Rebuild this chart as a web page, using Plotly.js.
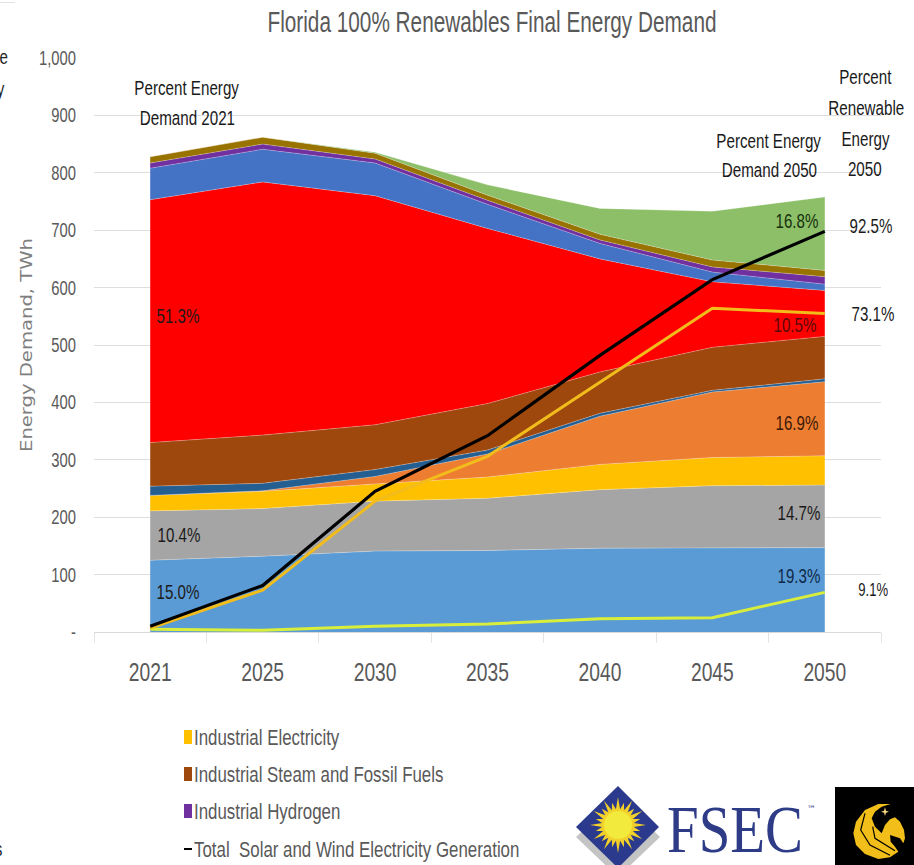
<!DOCTYPE html>
<html><head><meta charset="utf-8">
<script src="https://cdn.plot.ly/plotly-3.0.1.min.js"></script>
<style>html,body{margin:0;padding:0;background:#fff;overflow:hidden}#c{width:914px;height:865px}</style>
</head><body><div id="c"></div>
<script>
const years = ['2021','2025','2030','2035','2040','2045','2050'];
const residentialElectricity = [125,132,141,142,146,147,147];
const commercialElectricity  = [86,83,87,91,102,108,109];
const industrialElectricity  = [27,30,30,37,44,49,51];
const transportElectricity   = [0,1,13,40,84,114,129];
const otherElectricity       = [16,13,12,7,5,3,5];
const industrialSteam        = [76,84,78,81,72,75,74];
const transportFuels         = [423,441,399,305,197,114,80];
const thermalDemand          = [55,57,57,42,27,17,11];
const industrialHydrogen     = [9,9,7,7,6,9,13];
const aviationFuels          = [11,12,10,9,10,12,11];
const hydrogenFuels          = [0,0,2,18,45,85,128];
const solarWindGeneration    = [10,81,245,342,482,614,698];
const renewableElectricity   = [7,73,228,306,435,564,555];
const otherRenewable         = [5,3,10,14,23,25,69];
const yTicks = [0,100,200,300,400,500,600,700,800,900,1000];
const yTickLabels = ['-','100','200','300','400','500','600','700','800','900','1,000'];
const legendNames = ['Industrial Electricity','Industrial Steam and Fossil Fuels','Industrial Hydrogen','Total  Solar and Wind Electricity Generation'];
const legendColors = ['#FFC000','#9E480E','#7030A0','#000000'];

const W=914,H=865,L=94,R=881,T=58,B=632;
const SANS='"Liberation Sans",sans-serif';
const px=x=>(x-L)/(R-L), py=y=>(B-y)/(B-T);

const areaNames=['Residential Electricity','Commercial Electricity','Industrial Electricity','Transport Electricity','Other Electricity','Industrial Steam and Fossil Fuels','Transport Fuels','Thermal Demand','Industrial Hydrogen','Aviation Fuels','Hydrogen Fuels'];
const areaVals=[residentialElectricity,commercialElectricity,industrialElectricity,transportElectricity,otherElectricity,industrialSteam,transportFuels,thermalDemand,industrialHydrogen,aviationFuels,hydrogenFuels];
const areaColors=['#5B9BD5','#A5A5A5','#FFC000','#ED7D31','#255E91','#9E480E','#FF0000','#4472C4','#7030A0','#997300','#8CBF68'];
const traces=areaVals.map((v,i)=>({type:'scatter',mode:'lines',x:years,y:v,name:areaNames[i],stackgroup:'a',
  fillcolor:areaColors[i],line:{width:0.6,color:'rgba(255,255,255,0.45)'},hoverinfo:'name+y',showlegend:false}));
[[otherRenewable,'#D9EE3A','Other Renewable',3],[renewableElectricity,'#F2BC1B','Renewable Electricity',3],[solarWindGeneration,'#000000','Total Solar and Wind Electricity Generation',3.2]].forEach(s=>{
  traces.push({type:'scatter',mode:'lines',x:years,y:s[0],name:s[2],line:{color:s[1],width:s[3]},showlegend:false});
});

function txt(x,y,t,size,color,anchor){return {xref:'paper',yref:'paper',x:px(x),y:py(y),text:t,showarrow:false,
  xanchor:anchor||'center',yanchor:'middle',font:{family:SANS,size:size||20.5,color:color||'#1a1a1a'},borderpad:0,align:'center'};}
const ann=[
 txt(187,87,'Percent Energy'),txt(187,117,'Demand 2021'),
 txt(769,140,'Percent Energy'),txt(769,169.5,'Demand 2050'),
 txt(865,77,'Percent'),txt(866,108,'Renewable'),txt(866,138,'Energy'),txt(865,168,'2050'),
 txt(178,316,'51.3%',20.4),txt(179,535,'10.4%',20.4),txt(178,592,'15.0%',20.4),
 txt(797,221,'16.8%',20.4,'#16300c'),txt(795,325,'10.5%',20.4,'#5a0a0a'),txt(797,423,'16.9%',20.4,'#3a1a08'),txt(799,513,'14.7%',20.4),txt(799,576,'19.3%',20.4,'#0d2a48'),
 txt(871,226,'92.5%',20.4),txt(873,314,'73.1%',20.4),txt(873,590,'9.1%',17.7),
 txt(9,56,'le',20.5,'#222','right'),txt(6,88,'y',20.5,'#222','right'),txt(3,848,'s',20.5,'#222','right')
];
const shapes=[];
function rect(x0,y0,x1,y1,c){shapes.push({type:'rect',xref:'paper',yref:'paper',x0:px(x0),x1:px(x1),y0:py(y0),y1:py(y1),fillcolor:c,line:{width:0},layer:'above'});}
function poly(pts,c){shapes.push({type:'path',xref:'paper',yref:'paper',path:'M'+pts.map(p=>px(p[0])+','+py(p[1])).join('L')+'Z',fillcolor:c,line:{width:0},layer:'above'});}
function stroke(pts,c,w){shapes.push({type:'path',xref:'paper',yref:'paper',path:'M'+pts.map(p=>px(p[0])+','+py(p[1])).join('L'),line:{color:c,width:w},layer:'above'});}
const legY=[737,774,811,849];
legendNames.forEach((n,i)=>{
  if(i<3) rect(184,legY[i]-7,192,legY[i]+7,legendColors[i]); else rect(184,legY[i]-1,192,legY[i]+1,legendColors[i]);
  ann.push(txt(193,legY[i],n,22.8,'#595959','left'));
});
rect(0,2,15,3,'#e3e3e3');
poly([[576,837],[618,797],[660,837],[618,877]],'#C4C4C4');
poly([[576,827],[618,786],[659,827],[618,868]],'#2B3A8C');
const star=[];const cx=618,cy=825;
for(let i=0;i<48;i++){const r=i%2?16:(i%4?23:28);const a=i*Math.PI/24;star.push([cx+r*Math.cos(a),cy+r*Math.sin(a)]);}
poly(star,'#F2D02A');
shapes.push({type:'circle',xref:'paper',yref:'paper',x0:px(cx-14),x1:px(cx+14),y0:py(cy-14),y1:py(cy+14),fillcolor:'#F2EA3C',line:{width:0},layer:'above'});
const fsecIndex=ann.length;
ann.push({xref:'paper',yref:'paper',x:px(665),y:py(829),xanchor:'left',yanchor:'middle',showarrow:false,text:'FSEC',font:{family:'"Liberation Serif",serif',size:67,color:'#2E3B86'}});
ann.push({xref:'paper',yref:'paper',x:px(805),y:py(809),xanchor:'left',yanchor:'middle',showarrow:false,text:'™',font:{family:'"DejaVu Sans",sans-serif',size:9,color:'#2E3B86'}});
rect(835,787,914,865,'#000000');
const z=p=>[p[0]/3+570,p[1]/3+780];
poly([[962,72],[925,72],[885,90],[858,125],[850,160],[858,195],[885,222],[925,237],[960,232],[985,215],[975,200],[962,185],[960,165],[990,175],[1000,190],[1005,175],[1002,150],[990,125],[975,112],[960,118],[945,135],[935,160],[915,140],[905,115],[915,95],[935,80]].map(z),'#F2BE1A');
stroke([[885,100],[872,150],[900,195],[960,226]].map(z),'#000',1.2);
stroke([[908,140],[915,175],[975,212]].map(z),'#000',1.2);
poly([[945,82],[948,92],[957,95],[948,98],[945,108],[942,98],[933,95],[942,92]].map(z),'#F2D27A');

const layout={width:W,height:H,margin:{l:L,r:W-R,t:T,b:H-B,pad:0},paper_bgcolor:'#fff',plot_bgcolor:'#fff',showlegend:false,
 title:{text:'Florida 100% Renewables Final Energy Demand',x:492/W,xanchor:'center',y:1-22/H,yanchor:'middle',font:{family:SANS,size:29,color:'#595959'}},
 xaxis:{type:'category',categoryorder:'array',categoryarray:years,range:[-0.5,6.5],tickson:'boundaries',ticks:'outside',ticklen:10,tickcolor:'#e4e4e4',tickwidth:1,ticklabelstandoff:17,
   showline:true,linecolor:'#d9d9d9',showgrid:false,zeroline:false,tickfont:{family:SANS,size:26,color:'#595959'}},
 yaxis:{range:[0,1000],tickvals:yTicks,ticktext:yTickLabels,showgrid:true,gridcolor:'#dedede',gridwidth:1,zeroline:false,showline:false,ticks:'outside',tickcolor:'rgba(0,0,0,0)',ticklen:13,automargin:false,
   tickfont:{family:SANS,size:20,color:'#595959'},title:{text:'Energy Demand, TWh',standoff:2,font:{family:'"DejaVu Sans",sans-serif',size:16,color:'#7f7f7f'}}},
 annotations:ann,shapes:shapes};
function squeeze(el,f,anchor){
  const b0=el.getBBox();
  el.setAttribute('lengthAdjust','spacingAndGlyphs');
  el.setAttribute('textLength',(el.getComputedTextLength()*f).toFixed(1));
  const b1=el.getBBox();
  let dx=0;
  if(anchor==='left') dx=b0.x-b1.x;
  if(anchor==='right') dx=(b0.x+b0.width)-(b1.x+b1.width);
  if(dx) el.setAttribute('x',parseFloat(el.getAttribute('x')||0)+dx);
}
Plotly.newPlot('c',traces,layout,{displayModeBar:false,responsive:false}).then(gd=>{
  gd.querySelectorAll('.gtitle').forEach(e=>squeeze(e,0.716));
  gd.querySelectorAll('.xtick text,.ytick text').forEach(e=>squeeze(e,0.74));
  gd.querySelectorAll('.ytitle').forEach(e=>{
    squeeze(e,214/e.getComputedTextLength());
    e.setAttribute('transform','translate(13,0) '+(e.getAttribute('transform')||''));
  });
  gd.querySelectorAll('.annotation').forEach(a=>{
    const i=+a.getAttribute('data-index');const t=a.querySelector('text');
    if(!t||ann[i].text==='™')return;
    squeeze(t,i===fsecIndex?0.85:0.74,ann[i].xanchor);
  });
});
</script></body></html>
